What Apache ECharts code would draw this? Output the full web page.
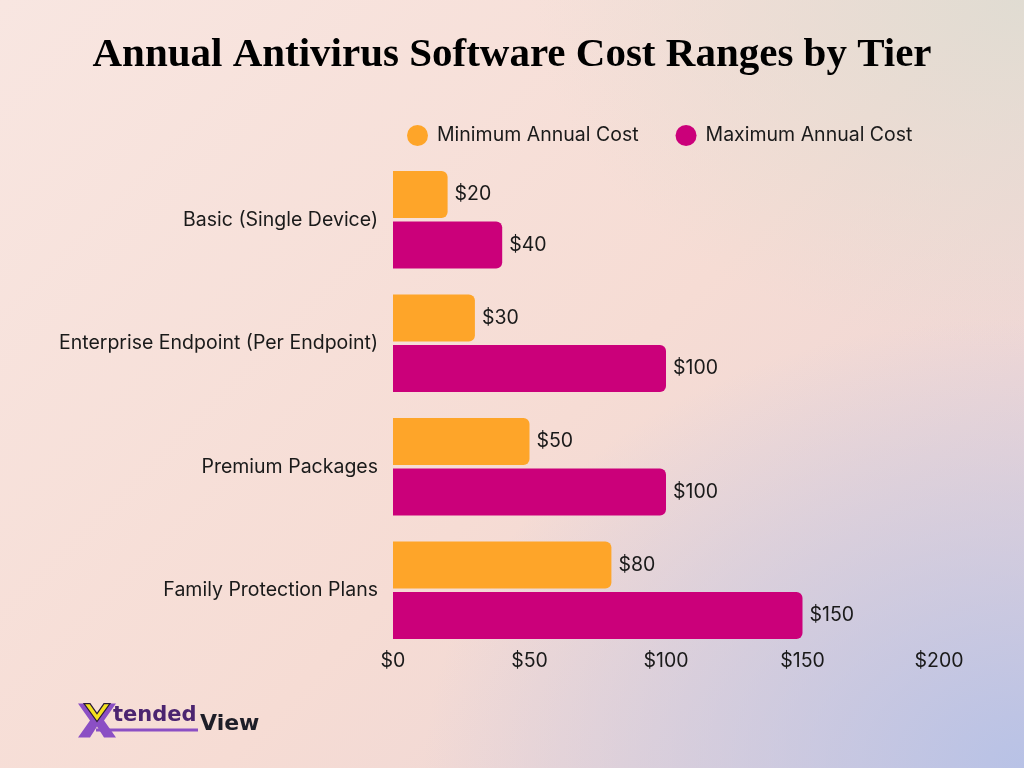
<!DOCTYPE html>
<html>
<head>
<meta charset="utf-8">
<script src="https://cdn.jsdelivr.net/npm/echarts@6/dist/echarts.min.js"></script>
<style>
  html, body { margin: 0; padding: 0; }
  body {
    width: 1024px; height: 768px; overflow: hidden;
    background:
      radial-gradient(ellipse 700px 500px at 100% 0%, rgba(222,220,210,0.9), rgba(222,220,210,0) 70%),
      radial-gradient(ellipse 800px 600px at 100% 100%, rgba(184,194,230,1), rgba(184,194,230,0) 75%),
      linear-gradient(135deg, #f8e6e1 0%, #f6dcd4 55%, #e8d2d6 100%);
  }
  #chart { width: 1024px; height: 768px; }
</style>
</head>
<body>
<div id="chart"></div>
<script>
var categories = ['Basic (Single Device)', 'Enterprise Endpoint (Per Endpoint)', 'Premium Packages', 'Family Protection Plans'];
var minCost = [20, 30, 50, 80];
var maxCost = [40, 100, 100, 150];
var seriesNames = ['Minimum Annual Cost', 'Maximum Annual Cost'];
var xTicks = [0, 50, 100, 150, 200];

var chart = echarts.init(document.getElementById('chart'));

var labelStyle = {
    show: true,
    position: 'right',
    distance: 7,
    fontFamily: 'Inter',
    fontSize: 19.5,
    color: '#1a1a1a',
    formatter: function (p) { return '$' + p.value; }
};

var option = {
    backgroundColor: 'transparent',
    title: {
        text: 'Annual Antivirus Software Cost Ranges by Tier',
        left: 'center',
        top: 30,
        textStyle: {
            fontFamily: 'Liberation Serif',
            fontWeight: 'bold',
            fontSize: 41,
            color: '#000'
        }
    },
    legend: {
        data: seriesNames,
        top: 120,
        left: 402,
        icon: 'circle',
        itemWidth: 21,
        itemHeight: 21,
        itemGap: 37,
        textStyle: { fontFamily: 'Inter', fontSize: 19.5, color: '#1a1a1a', padding: [0, 0, 0, 4] }
    },
    grid: { left: 393, right: 85, top: 158, height: 494, containLabel: false },
    xAxis: {
        type: 'value',
        min: 0,
        max: 200,
        interval: 50,
        axisLine: { show: false },
        axisTick: { show: false },
        splitLine: { show: false },
        axisLabel: {
            margin: -1,
            fontFamily: 'Inter',
            fontSize: 19.5,
            color: '#1a1a1a',
            formatter: function (v) { return xTicks.indexOf(v) >= 0 ? '$' + v : ''; }
        }
    },
    yAxis: {
        type: 'category',
        data: categories,
        inverse: true,
        axisLine: { show: false },
        axisTick: { show: false },
        axisLabel: {
            margin: 15,
            fontFamily: 'Inter',
            fontSize: 19.5,
            color: '#1a1a1a'
        }
    },
    series: [
        {
            name: seriesNames[0],
            type: 'bar',
            data: minCost,
            barWidth: 47,
            barGap: '7%',
            itemStyle: { color: '#FEA529', borderRadius: [0, 6, 6, 0] },
            label: labelStyle
        },
        {
            name: seriesNames[1],
            type: 'bar',
            data: maxCost,
            barWidth: 47,
            barGap: '7%',
            itemStyle: { color: '#CB007A', borderRadius: [0, 6, 6, 0] },
            label: labelStyle
        }
    ],
    graphic: [
        // logo: Xtended View
        {
            type: 'group',
            left: 78,
            top: 703,
            children: [
                { type: 'rect', shape: { x: 18, y: 27, width: 102, height: 3 }, style: { fill: '#8b4fc4' } },
                { type: 'polygon', shape: { points: [[0, 2], [12, 2], [19, 13], [26, 2], [38, 2], [26, 19], [38, 36], [26, 36], [19, 25], [12, 36], [0, 36], [12, 19]] }, style: { fill: '#8b4fc4' } },
                { type: 'polygon', shape: { points: [[6, 2], [12, 2], [19, 12], [26, 2], [32, 2], [19, 20]] }, style: { fill: '#f4e21e', stroke: '#2a1a3a', lineWidth: 1.2 } },
                { type: 'text', style: { x: 35, y: 3, text: 'tended', font: 'bold 21px "DejaVu Sans"', fill: '#4b2470' } },
                { type: 'text', style: { x: 122, y: 12, text: 'View', font: 'bold 22px "DejaVu Sans"', fill: '#1e1e28' } }
            ]
        }
    ]
};

chart.setOption(option);
</script>
</body>
</html>
